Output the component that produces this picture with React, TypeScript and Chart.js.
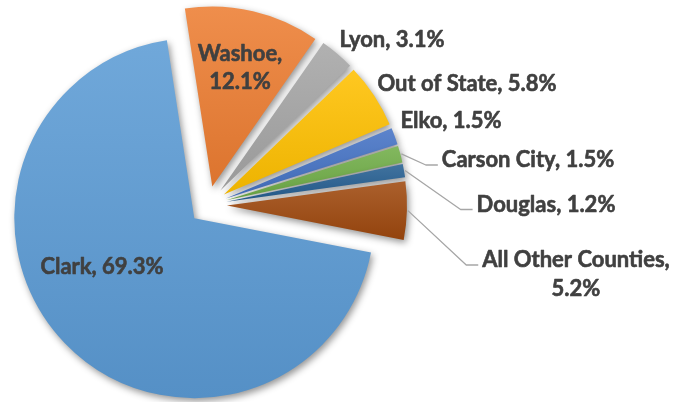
import React, { useEffect, useRef } from 'react';
import { Chart, ArcElement, PieController, registerables } from 'chart.js';

Chart.register(...registerables);

// ---- data ----
const CATEGORIES = ['Clark', 'Washoe', 'Lyon', 'Out of State', 'Elko', 'Carson City', 'Douglas', 'All Other Counties'];
const SHARES = [69.3, 12.1, 3.1, 5.8, 1.5, 1.5, 1.2, 5.2];
const BASE_COLORS = ['#5B9BD5', '#ED7D31', '#A5A5A5', '#FFC000', '#4472C4', '#70AD47', '#255E91', '#9E480E'];
// label text split into two lines for these slices
const LABEL_BREAK = [false, true, false, false, false, false, false, true];
// which labels get a leader line
const LABEL_LEADER = [false, false, false, false, false, true, true, true];
// label position (first-line cap centre) relative to the pie centre
const LABEL_OFFSET: [number, number][] = [
  [-106, 61],
  [32, -152],
  [184, -166],
  [259, -122],
  [243, -84.5],
  [320, -45.5],
  [338, -1],
  [368, 54.5],
];

// ---- style ----
const EXPLODE = 19;
const RADIUS = 180;
const ROTATION = 101;
const FONT_SIZE = 22;
const FONT = `bold ${FONT_SIZE}px Lato, "Open Sans", sans-serif`;
const LINE_H = 28.5;
const TEXT_COLOR = '#404040';
const LEADER_COLOR = '#A6A6A6';

function mix(hex: string, target: string, t: number): string {
  const p = (h: string) => [1, 3, 5].map((i) => parseInt(h.slice(i, i + 2), 16));
  const a = p(hex);
  const b = p(target);
  const c = a.map((v, i) => Math.round(v + (b[i] - v) * t));
  return `rgb(${c[0]},${c[1]},${c[2]})`;
}

function labelLines(i: number): string[] {
  const v = `${SHARES[i].toFixed(1)}%`;
  return LABEL_BREAK[i] ? [`${CATEGORIES[i]},`, v] : [`${CATEGORIES[i]}, ${v}`];
}

class ExplodedArc extends ArcElement {
  static id = 'explodedArc';
  draw(ctx: CanvasRenderingContext2D) {
    const self: any = this;
    const start = self.startAngle;
    const end = self.endAngle;
    const mid = (start + end) / 2;
    const R = self.outerRadius;
    let minY = Math.min(0, Math.sin(start), Math.sin(end));
    let maxY = Math.max(0, Math.sin(start), Math.sin(end));
    for (let k = -4; k <= 6; k++) {
      const a = Math.PI / 2 + k * Math.PI;
      if (a >= start && a <= end) {
        if (Math.sin(a) > 0) maxY = 1;
        else minY = -1;
      }
    }
    const base = self.options.backgroundColor;
    const g = ctx.createLinearGradient(0, self.y + minY * R, 0, self.y + maxY * R);
    g.addColorStop(0, mix(base, '#ffffff', 0.13));
    g.addColorStop(1, mix(base, '#000000', 0.07));
    const saved = self.options;
    self.options = Object.assign({}, saved, { backgroundColor: g });
    ctx.save();
    ctx.translate(Math.cos(mid) * EXPLODE, Math.sin(mid) * EXPLODE);
    ctx.shadowColor = 'rgba(0,0,0,0.42)';
    ctx.shadowBlur = 7;
    ctx.shadowOffsetX = 2;
    ctx.shadowOffsetY = 3;
    super.draw(ctx);
    ctx.restore();
    self.options = saved;
  }
}

class ExplodedPieController extends PieController {
  static id = 'explodedPie';
  static defaults = { dataElementType: 'explodedArc' };
}

Chart.register(ExplodedArc as any, ExplodedPieController as any);

const labelPlugin = {
  id: 'sliceLabels',
  afterDatasetsDraw(chart: any) {
    const meta = chart.getDatasetMeta(0);
    const ctx: CanvasRenderingContext2D = chart.ctx;
    ctx.save();
    ctx.font = FONT;
    ctx.textAlign = 'center';
    ctx.textBaseline = 'alphabetic';
    const capShift = FONT_SIZE * 0.36;
    meta.data.forEach((arc: any, i: number) => {
      const cx = arc.x;
      const cy = arc.y;
      const lx = cx + LABEL_OFFSET[i][0];
      const ly = cy + LABEL_OFFSET[i][1];
      const lines = labelLines(i);
      if (LABEL_LEADER[i]) {
        const mid = (arc.startAngle + arc.endAngle) / 2;
        const r = EXPLODE + arc.outerRadius + 1;
        const ex = cx + Math.cos(mid) * r;
        const ey = cy + Math.sin(mid) * r;
        const w = ctx.measureText(lines[0]).width;
        const left = lx - w / 2 - 4;
        const yl = ly + 5.5;
        ctx.strokeStyle = LEADER_COLOR;
        ctx.lineWidth = 1.3;
        ctx.beginPath();
        ctx.moveTo(ex, ey);
        ctx.lineTo(left - 12, yl);
        ctx.lineTo(left, yl);
        ctx.stroke();
      }
      ctx.fillStyle = TEXT_COLOR;
      ctx.strokeStyle = TEXT_COLOR;
      ctx.lineWidth = 0.6;
      ctx.lineJoin = 'round';
      lines.forEach((t, j) => {
        const ty = ly + j * LINE_H + capShift;
        ctx.fillText(t, lx, ty);
        ctx.strokeText(t, lx, ty);
      });
    });
    ctx.restore();
  },
};

export default function App() {
  const ref = useRef<HTMLCanvasElement | null>(null);
  useEffect(() => {
    if (!ref.current) return;
    const chart = new Chart(ref.current, {
      type: 'explodedPie' as any,
      data: {
        labels: CATEGORIES,
        datasets: [{ data: SHARES, backgroundColor: BASE_COLORS, borderWidth: 0 }],
      },
      options: {
        responsive: false,
        animation: false,
        devicePixelRatio: 1,
        rotation: ROTATION,
        radius: RADIUS,
        layout: { padding: { left: 0, right: 258, top: 8, bottom: 0 } },
        plugins: { legend: { display: false }, tooltip: { enabled: false } },
        events: [],
      } as any,
      plugins: [labelPlugin],
    });
    return () => chart.destroy();
  }, []);
  return (
    <div style={{ position: 'absolute', left: 0, top: 0, width: 674, height: 402, background: '#fff' }}>
      <canvas ref={ref} width={674} height={402} style={{ display: 'block' }} />
    </div>
  );
}
